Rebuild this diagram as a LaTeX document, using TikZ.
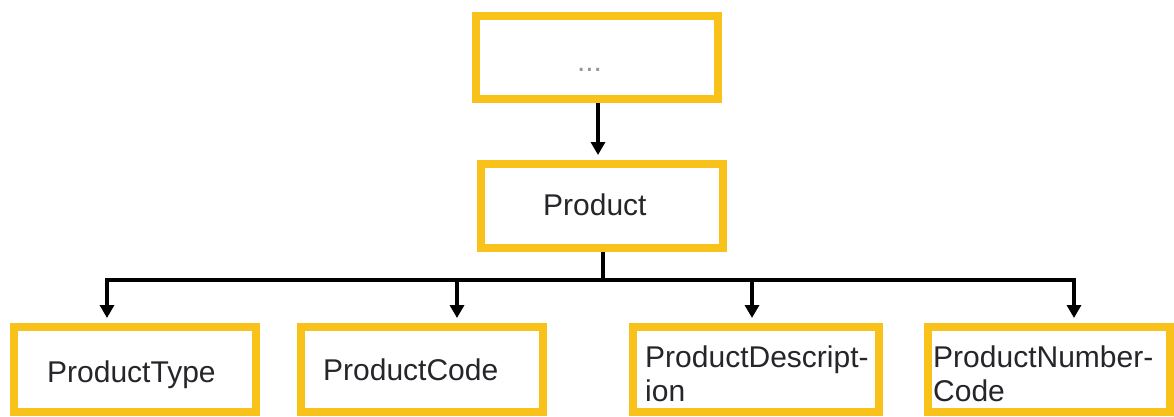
\documentclass[tikz,border=0pt]{standalone}
\usepackage{fontspec}
\setmainfont{Liberation Sans}
\usetikzlibrary{arrows.meta}

\definecolor{boxgold}{RGB}{249,194,27}
\definecolor{labeltext}{RGB}{38,38,42}
\definecolor{dotsgray}{RGB}{150,150,150}

\tikzset{
  ybox/.style={draw=boxgold, line width=8pt, fill=white, rectangle,
    inner sep=0pt, minimum width=242pt, minimum height=83pt},
  lbl/.style={anchor=base west, inner sep=0pt, text=labeltext,
    font=\fontsize{30}{34}\selectfont, align=left},
  wire/.style={line width=3.8pt, draw=black, line join=miter},
  arr/.style={wire, -{Triangle[length=13pt,width=14pt]}, shorten >=5pt},
}

\begin{document}
\begin{tikzpicture}[x=1pt, y=-1pt]
  \useasboundingbox (0,0) rectangle (1174,416);

  % boxes (centre, inner size = outer size minus border)
  \node[ybox] (top)  at (597,57.5) {};
  \node[ybox, minimum height=84pt] (prod) at (602,206) {};
  \node[ybox, minimum height=85pt] (ptype) at (135,369.5) {};
  \node[ybox, minimum height=85pt] (pcode) at (422,369.5) {};
  \node[ybox, minimum height=85pt, minimum width=246pt] (pdesc) at (756,369.5) {};
  \node[ybox, minimum height=85pt] (pnum)  at (1049,369.5) {};

  % labels (two-line labels are placed by the baseline of their last line)
  \node[anchor=base, inner sep=0pt, text=dotsgray,
        font=\fontsize{30}{34}\selectfont] (dots) at (589.5,71) {...};
  \node[lbl] (prodT)  at (543,215) {Product};
  \node[lbl] (ptypeT) at (47,382)  {ProductType};
  \node[lbl] (pcodeT) at (323,380) {ProductCode};
  \node[lbl] (pdescT) at (645,401) {ProductDescript-\\ion};
  \node[lbl] (pnumT)  at (933,401) {ProductNumber-\\Code};

  % connectors
  \draw[arr] ([xshift=1pt]top.south) -- ([xshift=1pt]top.south |- prod.north);

  \coordinate (bus) at (603,280);
  \draw[wire] ([xshift=1pt]prod.south) -- (bus);
  \draw[arr] (bus) -| ([xshift=-28pt]ptype.north);
  \draw[arr] (bus) -| ([xshift=35pt]pcode.north);
  \draw[arr] (bus) -| ([xshift=-4pt]pdesc.north);
  \draw[arr] (bus) -| ([xshift=25pt]pnum.north);
\end{tikzpicture}
\end{document}
